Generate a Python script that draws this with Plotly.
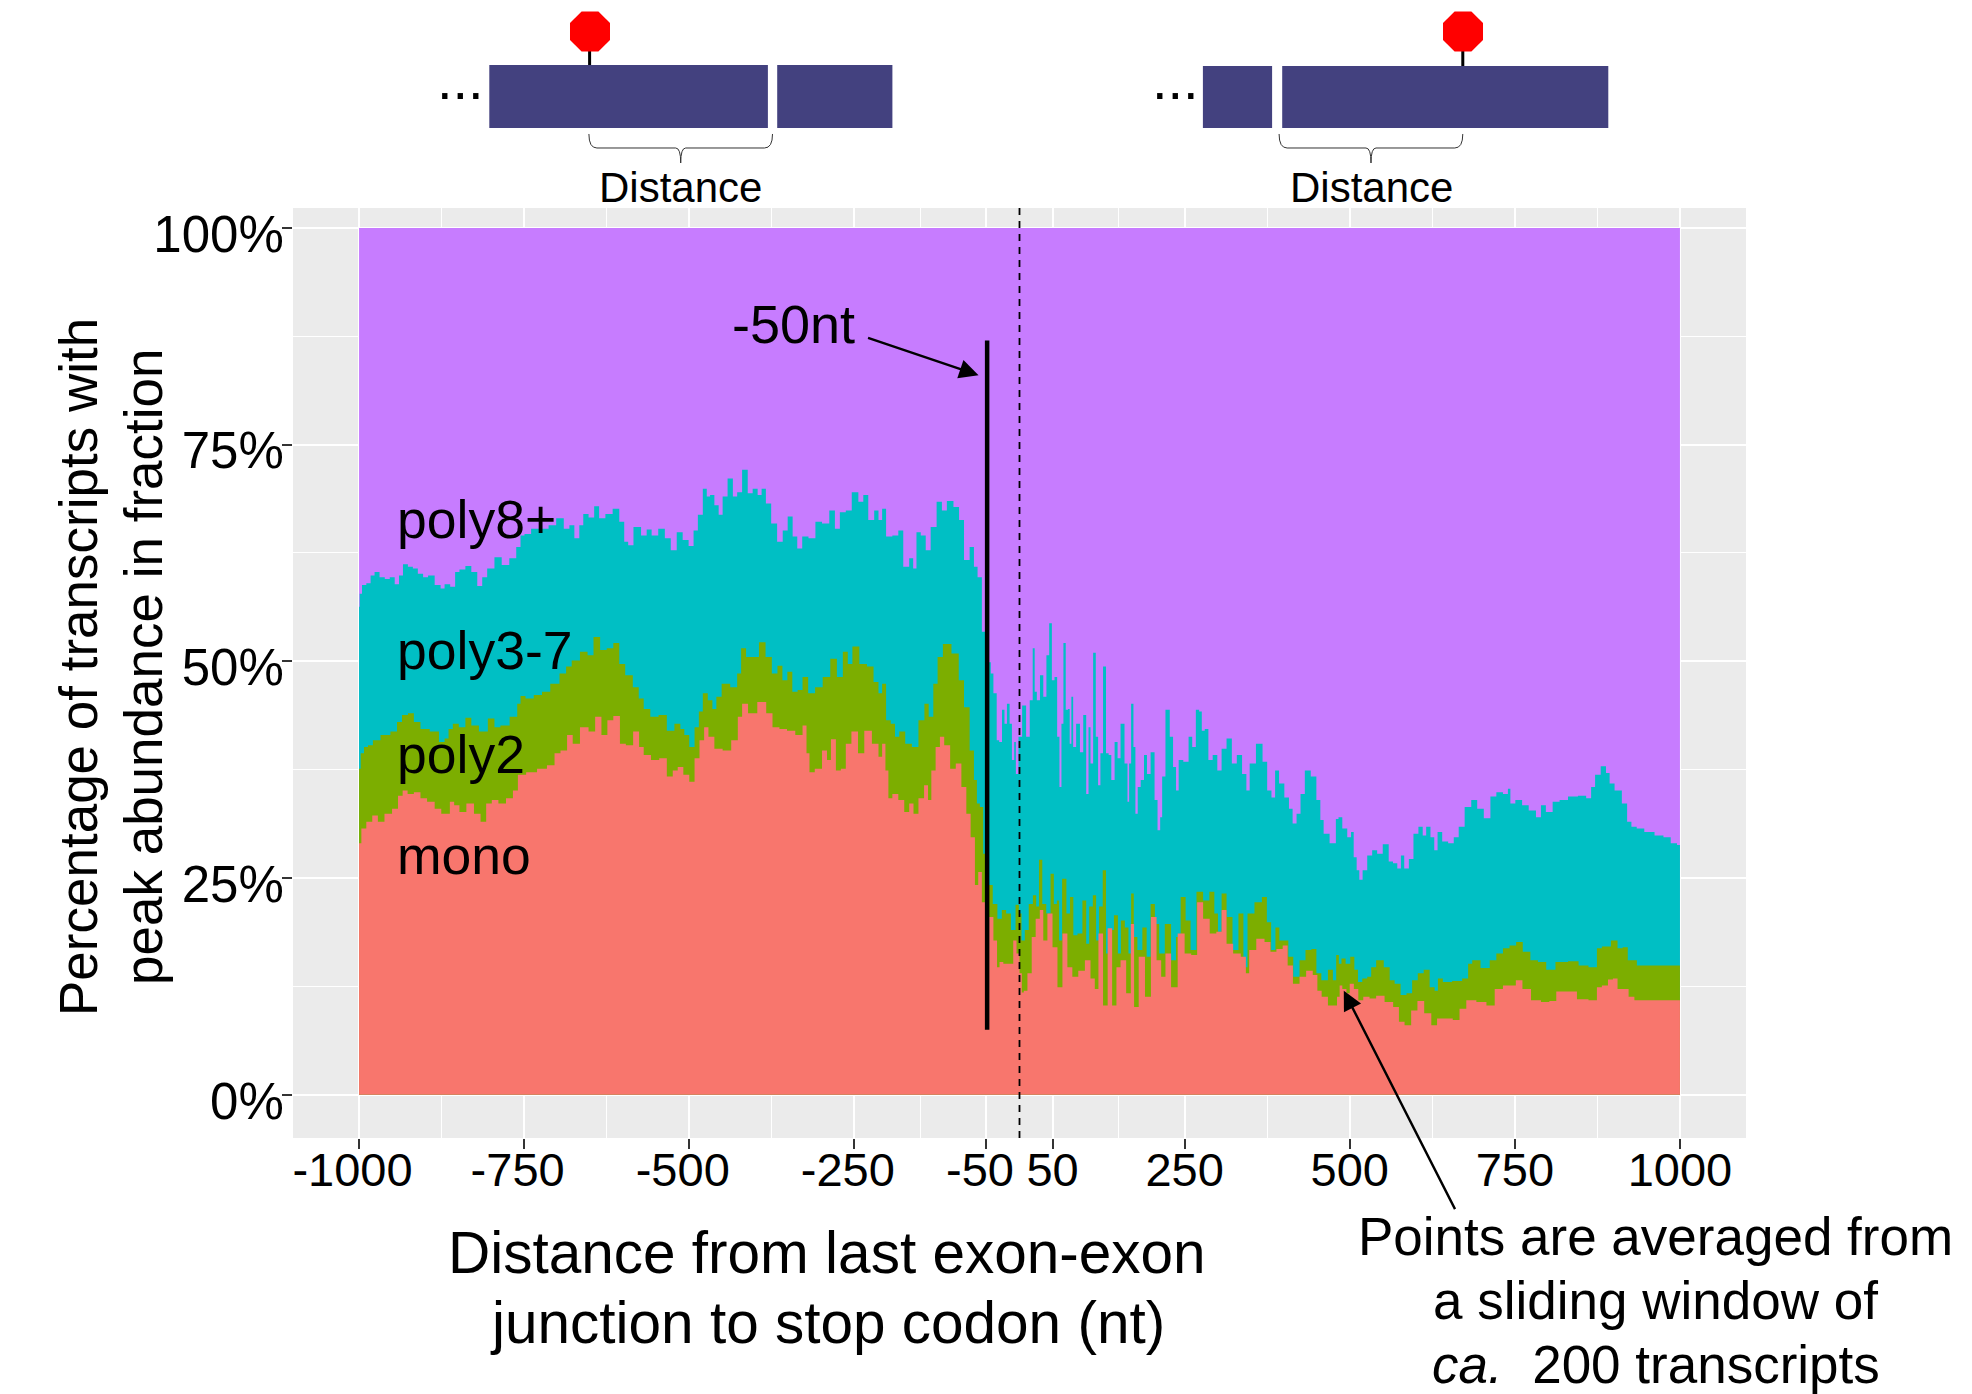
import plotly.graph_objects as go

W, H = 1972, 1394
L, R, T, B = 293, 1746, 208, 1138

x_ticks = [-1000, -750, -500, -250, -50, 50, 250, 500, 750, 1000]
x_tick_labels = ["-1000\u00a0", "-750\u00a0", "-500\u00a0", "-250\u00a0", "-50\u00a0", "50", "250", "500", "750", "1000"]
x_minor = [-875, -625, -375, -150, 150, 375, 625, 875]
y_ticks = [0, 25, 50, 75, 100]
y_minor = [12.5, 37.5, 62.5, 87.5]
y_tick_labels = ["0%", "25%", "50%", "75%", "100%"]

COL_MONO, COL_POLY2, COL_POLY37, COL_POLY8 = "#F8766D", "#7CAE00", "#00BFC4", "#C77CFF"

# Upper edge of each stacked band, percent
poly8_top = [(-1000, 100), (1000, 100)]

poly37_top = [(-1000,56.3),(-998,57.8),(-993,58.8),(-985,59.0),(-980,59.9),(-973,60.3),(-965,59.7),(-957,59.5),(-950,59.7),(-942,58.9),
(-937,59.9),(-930,61.2),(-922,60.9),(-915,60.7),(-907,60.1),(-899,59.7),(-892,59.9),(-879,58.8),(-874,58.4),(-867,58.9),(-857,58.6),
(-852,60.3),(-844,60.6),(-834,61),(-826,60.3),(-816,58.7),(-811,59.7),(-801,60.7),(-789,62),(-779,61.1),(-766,61.9),(-758,63.2),
(-753,64.5),(-746,64.7),(-733,65.3),(-718,65.3),(-708,65.7),(-695,66.5),(-685,65.3),(-678,65.7),(-670,64.2),(-663,65.7),(-658,67),
(-647,66.6),(-641,67.9),(-632,66.5),(-622,67),(-610,67.6),(-602,66.1),(-595,63.8),(-590,63.4),(-579,65.5),(-567,64.5),(-562,65.2),
(-552,64.5),(-542,65.3),(-532,64.2),(-524,62.8),(-514,64.9),(-506,64),(-496,63.3),(-491,65.1),(-483,66.9),(-476,69.9),(-471,69),
(-466,69.2),(-458,68),(-453,66.9),(-446,69),(-438,71.1),(-430,69),(-425,69.5),(-415,72.1),(-408,69.4),(-400,69.9),(-393,69.2),
(-388,69.9),(-380,68.2),(-372,65.9),(-362,63.8),(-355,65.1),(-347,66.7),(-340,64.4),(-333,63),(-325,64.4),(-314,64.2),(-304,66.1),
(-294,65.9),(-282,67.4),(-277,65.3),(-267,67.2),(-259,67.4),(-249,69.5),(-239,68.4),(-234,69.2),(-224,66.3),(-216,67.4),(-211,66.3),
(-205,67.6),(-199,64.4),(-186,64.5),(-181,65.1),(-171,60.9),(-163,61.9),(-159,60.7),(-153,64.9),(-146,64.5),(-138,62.8),(-131,65.5),
(-120,68.4),(-115,67.4),(-105,68.5),(-95,67.8),(-88,66.3),(-80,61.7),(-71,63.2),(-67,60.9),(-60,59.7),(-54,53.4),(-45,49.9),(-42,48.6),
(-37,46.3),(-32,40.9),(-29.5,40.7),(-23.5,44.4),(-22,42.8),(-16,45.1),(-14,42.8),(-9,38.6),(-7,40.7),(-4,37),(1,41.3),(7,44.9),(13,41.3),
(18,45.5),(22,51.5),(24,46.5),(28.5,45.5),(33.5,48.4),(38.5,45.9),(43,50.7),(47,54.4),(51,47.8),(55,48.2),(59,41.3),(62,35.5),(65,42.8),
(68,52.1),(72,44.4),(75,44.5),(77,40.5),(80,45.9),(82.5,40.1),(89,42.8),(94,39.5),(99,43.8),(103,34.7),(106,42.4),(109,38.2),(114,51),
(117,41.3),(121,35.7),(124,39.4),(129,49.4),(133,39.4),(137,39.2),(141,36.3),(147,40.7),(150,38.8),(156,42.8),(162,38.2),(165,33.8),
(167,38.2),(171,45.1),(174,40.1),(177,32.4),(181,35.5),(186,36.3),(191,39.2),(195,37),(202,39.5),(207,34),(211,30.5),(215,32),(217,36.7),
(225,44.4),(230,41.3),(235,37.8),(239,35.1),(243,38.6),(253,38.4),(259,41.3),(264,40.1),(270,44.4),(274,44.2),(278,42),(283,42.2),
(289,38.6),(296,39.2),(303,37.4),(309,39.9),(318,41.1),(325,38.2),(333,39.2),(341,37),(346,35.1),(351,38.2),(365,40.5),(371,38.4),
(379,35.1),(384,34.3),(390,37.4),(396,35.9),(406,34.3),(410,33),(417,31.3),(422,32.4),(429,34.7),(435,37.4),(447,36.7),(452,34),
(459,31.7),(462,30.1),(477,29),(481,31.8),(485,32),(492.5,30.7),(500,29.7),(504,30.3),(508,27.4),(513,25.9),(516,24.8),(523,25.9),
(530,27.6),(538,28.2),(545,27.8),(555,28.9),(563,26.9),(568,26.7),(576,26.1),(579,27.6),(586,26.1),(593,27.2),(600,30.1),(608,30.9),
(613,29.9),(618.5,30.9),(626,29.7),(630,28.2),(636,30.3),(644,29.2),(654,29),(661,29.7),(669,30.9),(679,33.2),(689,34),(697,33),
(709,31.9),(717,34.4),(727,34.9),(737,34.7),(742,35.3),(744.5,33.6),(757,34),(765,33.4),(777,32.8),(787,32),(792,33.4),(802,32.6),
(812.5,33.8),(823,34),(838,34.4),(853,34.5),(863,34.2),(868,35.5),(875,36.9),(885,37.9),(891,37.1),(896,35.9),(906,35.1),(918,33.6),
(922,31.5),(931,30.9),(938,30.7),(954,30.3),(969,29.9),(981,29.7),(991,29),(1000,28.8)]

poly2_top = [(-1000,37.6),(-995,39.4),(-990,40.1),(-983,40.3),(-975,40.9),(-960,41.5),(-945,41.9),(-940,43),(-930,43.8),(-922,44),(-912,43),
(-902,42.2),(-884,41.9),(-874,40.7),(-867,41.1),(-862,42.2),(-854,42.8),(-844,42.4),(-834,43.5),(-826,42.6),(-811,41.9),(-799,43.4),
(-791,42.4),(-781,42.6),(-763,43.6),(-758,45.1),(-753,46),(-743,45.7),(-728,46.1),(-718,46.5),(-703,47.4),(-690,48.6),(-683,49.4),
(-673,50.1),(-658,51.1),(-650,50.7),(-640,52.8),(-630,51.3),(-620,51.5),(-610,52.1),(-602,49.7),(-592,48.4),(-579,47),(-574,45.7),
(-564,44.5),(-554,43.6),(-539,43.8),(-529,42),(-516,42.8),(-511,42.2),(-504,41.5),(-496,40.1),(-488,42.4),(-483,44.2),(-476,46.3),
(-468,45.5),(-462,44.5),(-456,45.9),(-446,47.4),(-430,47),(-425,48.6),(-418,51.5),(-410,50.5),(-400,50.5),(-389,52.2),(-380,50.5),
(-370,48.6),(-363,49.5),(-355,47.8),(-348,48.8),(-340,46.5),(-332,46.7),(-325,48.2),(-315,46.3),(-304,47),(-292,48.2),(-281,50.3),
(-272,48.2),(-263,51.1),(-257,49.7),(-249,51.7),(-236,49.7),(-226,49.4),(-216,47.6),(-211,46.3),(-205,47.4),(-199,43.2),(-191,42.8),
(-186,41.3),(-178,41.9),(-168,40.5),(-158,40.1),(-148,43.2),(-140,45.1),(-135,43.6),(-126,47.4),(-122,50.5),(-110,52),(-96,50.9),
(-88,47.8),(-80,44.7),(-71,39.7),(-67,36.3),(-62,33.6),(-58,33.2),(-52,27.8),(-44,24.2),(-37,22),(-30,20.3),(-23.5,21.3),(-17,20.9),
(-9,19),(-3,21.9),(1,20.9),(5,17.8),(11,19),(17,22),(23.5,23),(27,21.7),(32,27.1),(37,22),(44,20.9),(50,25.5),(54,22),(59,22.4),(61,17.8),
(68,24.9),(74,20.9),(79,22.8),(84,18.4),(91.5,18.6),(99,22.4),(103,17.4),(108,21.7),(114,23),(118,17.8),(123,21.7),(129,25.9),(133,16.3),
(139,19),(147,20.7),(151,16.3),(156,20.1),(163,19.3),(167,16.3),(171,23.2),(175,18.2),(182,16.7),(190,19.3),(195,15.9),(202,22),(208,19.7),
(215,16.3),(225,19.7),(234,15.5),(240,18.2),(248,22.8),(255,20.1),(263,16.7),(273,23.4),(283,22.4),(292,23.4),(298,20.9),(303,18.8),
(309,23.2),(318,20.5),(327,16.7),(336,20.9),(342,14.7),(348.5,20.9),(363,22.2),(371,22.8),(378,19.9),(384,16.7),(391,19.3),(396,17.8),
(404,17.8),(410,15.9),(419,13.6),(429,15.5),(437,16.7),(447,16.8),(452,14),(462,13.2),(472,14.4),(477,13.2),(482,16.1),(485,15.1),(490,15.7),
(497.5,15.1),(504,15.9),(510,14.4),(515,13),(523,13.4),(530,13.6),(535,14.7),(545,15.5),(558,14.7),(563,13.2),(573,12.8),(581,11.5),
(591,11.7),(598,13.2),(608,14),(616,14.4),(626,12.4),(631,12),(636,13.4),(646,13),(664,13.1),(676.5,13.4),(682,15.1),(689,15.5),(707,14.6),
(717,15.5),(727,16.3),(737,16.9),(747,17.2),(757,17.6),(767,16.5),(780,15.5),(790,15.3),(805,14.4),(818,15.3),(843,15.4),(850,14.9),
(873,14.7),(875.5,16.9),(888,17.1),(903,17.8),(908,16.9),(918.5,17),(923.5,15.5),(933.5,15.5),(936,14.9),(1000,14.9)]

mono_top = [(-1000,29),(-993,30.7),(-985,31.5),(-975,32.2),(-968,31.5),(-955,32.4),(-945,33),(-937,34.5),(-931,35.1),(-922,34.7),(-912,34.9),
(-902,34.2),(-892,33.8),(-879,33),(-872,32.4),(-865,32.4),(-860,33.8),(-852,33.4),(-844,32.6),(-831,33.6),(-821,32.4),(-811,31.5),(-804,33.6),
(-794,34),(-784,33.6),(-771,34.2),(-763,35.1),(-756,36.9),(-738,37.2),(-723,37.6),(-708,38),(-700,39.4),(-690,39.7),(-680,41.5),(-673,40.5),
(-658,42.4),(-647,41.9),(-638,43.6),(-628,41.5),(-620,43.2),(-610,43.7),(-600,40.5),(-592,40.3),(-578,41.9),(-574,40.1),(-564,39.2),
(-552,38.6),(-539,38.8),(-529,36.7),(-521,37.4),(-514,37.8),(-504,36.9),(-496,36.1),(-488,38.8),(-481,40.9),(-474,42.4),(-468,41.3),
(-456,39.9),(-443,39.7),(-430,40.9),(-423,43.6),(-417,45.1),(-405,44),(-389,45.3),(-378,44),(-370,42.4),(-357,42.2),(-347,42),(-332,41.5),
(-325,42.6),(-320,39.4),(-316,37.2),(-304,37.6),(-294,39.7),(-289,38.6),(-282,41),(-274,37.4),(-267,37.6),(-259,40.5),(-250,41.9),(-239,39.4),
(-231,42),(-216,40.5),(-211,39),(-205,40.5),(-201,37.4),(-196,34.2),(-189,34.7),(-178,34),(-171,32.6),(-163,33.6),(-158,32.4),(-148,34.2),
(-141,35.7),(-136,34),(-131,37.4),(-123,40.1),(-118,41.3),(-110,40.3),(-100,37.6),(-93,38.2),(-83,35.5),(-78,32.4),(-70,29.7),(-65,24.2),
(-60,25.7),(-54,22.2),(-42,20.5),(-37,17.8),(-31,14.7),(-29.5,15.3),(-19.5,15.1),(-12,15.1),(-7,17.8),(-2,16.3),(2,14),(5,11.8),(8,12),(16,14),
(21,18.2),(28,20.3),(33.5,21.3),(38.5,17.8),(46,20.9),(54,17),(61,12.4),(69,18.6),(76,14.7),(84,13.6),(94,14.3),(104,15.5),(111,13.4),(117,12.2),
(122,18.6),(131,10.3),(136,19.2),(144.5,10.3),(149,14.7),(157,15.5),(166,11.7),(171,19.7),(176,10.1),(185,15.9),(195,11.3),(203,20.5),(212,15.5),
(217,13.6),(225,16.3),(234,12.4),(245,18.6),(255,16.3),(265,16.1),(273,22.2),(283,20.3),(293,18.6),(303,18.8),(309,21.3),(318,17.4),(329,16.3),
(341,15.9),(344.5,14),(351,16.7),(366,18),(376,17.6),(384,16.5),(394,16.8),(403,17.2),(409,14.9),(419,12.8),(429,13.6),(439,14.3),(449,13.8),
(453,12),(462,11.3),(472,10.3),(477,10.3),(484.5,11.3),(485,12.6),(492.5,12.2),(497.5,11.7),(502.5,12.8),(510,12.2),(516,10.9),(525,11.3),
(535,11.1),(545,11.4),(560.5,10.7),(571,10.1),(578,8.4),(588,8),(598,9.7),(607,10.8),(618.5,9.4),(628.5,8),(636,8.8),(651,8.8),(661,8.6),
(671.5,9.9),(681.5,10.9),(702,10.7),(712,10.3),(727,12.2),(737,12.6),(747,12.6),(756,13.2),(767,12.2),(782,10.9),(797,10.7),(807.5,10.8),
(818,11.9),(838,11.9),(850,11),(873,10.9),(875.5,12.4),(888,12.6),(894,13.3),(903,13.4),(908,12.2),(918.5,12.2),(926,11.3),(936,10.9),(1000,10.9)]

band_labels = ["poly8+", "poly3-7", "poly2", "mono"]
band_label_y = [66.4, 51.2, 39.3, 27.6]
FONT = "Liberation Sans"


def px(x):
    return (x - L) / (R - L)


def py(y):
    return (B - y) / (B - T)


fig = go.Figure()
for name, pts, col in [("poly8+", poly8_top, COL_POLY8), ("poly3-7", poly37_top, COL_POLY37),
                       ("poly2", poly2_top, COL_POLY2), ("mono", mono_top, COL_MONO)]:
    xs, ys = zip(*pts)
    fig.add_trace(go.Scatter(x=list(xs), y=list(ys), mode="lines", name=name, fill="tozeroy",
                             fillcolor=col, line=dict(width=0, color=col, shape="hvh"), hoverinfo="skip"))

shapes = [
    dict(type="line", xref="x", yref="paper", x0=0, x1=0, y0=0, y1=1,
         line=dict(color="black", width=1.8, dash="7px,6px")),
    dict(type="line", xref="x", yref="y", x0=-49, x1=-49, y0=7.5, y1=87,
         line=dict(color="black", width=4.5)),
]


def rect(x0, x1, y0, y1, col="#43417F"):
    return dict(type="rect", xref="paper", yref="paper", x0=px(x0), x1=px(x1), y0=py(y1), y1=py(y0),
                fillcolor=col, line=dict(width=0))


def path(points, close=False, **kw):
    s = "M " + " L ".join(f"{px(a):.5f},{py(b):.5f}" for a, b in points) + (" Z" if close else "")
    return dict(type="path", xref="paper", yref="paper", path=s, **kw)


def brace(x0, xc, x1):
    def P(a, b):
        return f"{px(a):.5f},{py(b):.5f}"
    s = (f"M {P(x0,134)} Q {P(x0,148)} {P(x0+8,148)} L {P(xc-5,148)} Q {P(xc,148)} {P(xc,163)} "
         f"Q {P(xc,148)} {P(xc+5,148)} L {P(x1-8,148)} Q {P(x1,148)} {P(x1,134)}")
    return dict(type="path", xref="paper", yref="paper", path=s, line=dict(color="#333333", width=1))


def octagon(cx, cy=31.5, r=20):
    k = r * 0.42
    return path([(cx - k, cy - r), (cx + k, cy - r), (cx + r, cy - k), (cx + r, cy + k),
                 (cx + k, cy + r), (cx - k, cy + r), (cx - r, cy + k), (cx - r, cy - k)],
                close=True, fillcolor="#FF0000", line=dict(width=0))


shapes += [rect(489.3, 767.9, 65, 128), rect(777.2, 892.4, 65, 128),
           rect(1202.9, 1272.1, 66, 128), rect(1282.2, 1608.3, 66, 128),
           path([(589.6, 50), (589.6, 65)], line=dict(color="black", width=3)),
           path([(1462.8, 50), (1462.8, 66)], line=dict(color="black", width=3)),
           octagon(590), octagon(1463),
           brace(588.9, 680.7, 772.5), brace(1279.1, 1371, 1462.8)]

ann = []
for t, yv in zip(band_labels, band_label_y):
    ann.append(dict(x=-945, y=yv, xref="x", yref="y", text=t, showarrow=False, xanchor="left", yanchor="middle",
                    font=dict(size=53.5, color="black", family=FONT)))
ann.append(dict(x=-439, y=88.9, xref="x", yref="y", text="-50nt", showarrow=False, xanchor="left", yanchor="middle",
                font=dict(size=54, color="black", family=FONT)))
# arrows
ann.append(dict(x=-62, y=83, xref="x", yref="y", ax=-112, ay=-38, axref="pixel", ayref="pixel", text="",
                showarrow=True, arrowhead=2, arrowsize=1.6, arrowwidth=2.4, arrowcolor="black", standoff=0))
ann.append(dict(x=491, y=12, xref="x", yref="y", ax=112, ay=220, axref="pixel", ayref="pixel", text="",
                showarrow=True, arrowhead=2, arrowsize=1.6, arrowwidth=2.4, arrowcolor="black", standoff=0))


def label(t, xc, yc, size, angle=0):
    ann.append(dict(x=px(xc), y=py(yc), xref="paper", yref="paper", text=t, showarrow=False, textangle=angle,
                    xanchor="center", yanchor="middle", font=dict(size=size, color="black", family=FONT)))


label("Distance", 680, 187, 42)
label("Distance", 1371, 187, 42)
label("...", 460, 79, 56)
label("...", 1175, 80, 56)
label("Points are averaged from", 1655, 1236, 53)
label("a sliding window of", 1655, 1300, 53)
label("<i>ca.</i>\u00a0 200 transcripts", 1656, 1364, 53)
label("Distance from last exon-exon", 827, 1252, 58.5)
label("junction to stop codon (nt)", 827, 1322, 58.5)
label("Percentage of transcripts with", 78, 667, 53, -90)
label("peak abundance in fraction", 143, 667, 53, -90)

fig.update_layout(
    width=W, height=H, autosize=False, showlegend=False,
    margin=dict(l=L, r=W - R, t=T, b=H - B, pad=0),
    paper_bgcolor="white", plot_bgcolor="#EBEBEB",
    font=dict(family=FONT, color="black"),
    shapes=shapes, annotations=ann,
    xaxis=dict(range=[-1100, 1100], tickmode="array", tickvals=x_ticks, ticktext=x_tick_labels,
               tickfont=dict(size=47, color="black"), ticks="outside", ticklen=10, tickwidth=2, tickcolor="#333333",
               showgrid=True, gridcolor="white", gridwidth=2.2, zeroline=False, showline=False, tickangle=0,
               ticklabelstandoff=-19,
               minor=dict(tickmode="array", tickvals=x_minor, showgrid=True, gridcolor="white", gridwidth=1.1, ticks=""),
               automargin=False),
    yaxis=dict(range=[-5, 102.3], tickmode="array", tickvals=y_ticks, ticktext=y_tick_labels,
               tickfont=dict(size=51, color="black"), ticks="outside", ticklen=10, tickwidth=2, tickcolor="#333333",
               showgrid=True, gridcolor="white", gridwidth=2.2, zeroline=False, showline=False,
               ticklabelstandoff=-12, ticklabelshift=6,
               minor=dict(tickmode="array", tickvals=y_minor, showgrid=True, gridcolor="white", gridwidth=1.1, ticks=""),
               automargin=False),
)
fig.write_html("out.html", config={"displayModeBar": False}, post_script="document.body.style.margin='0';")
